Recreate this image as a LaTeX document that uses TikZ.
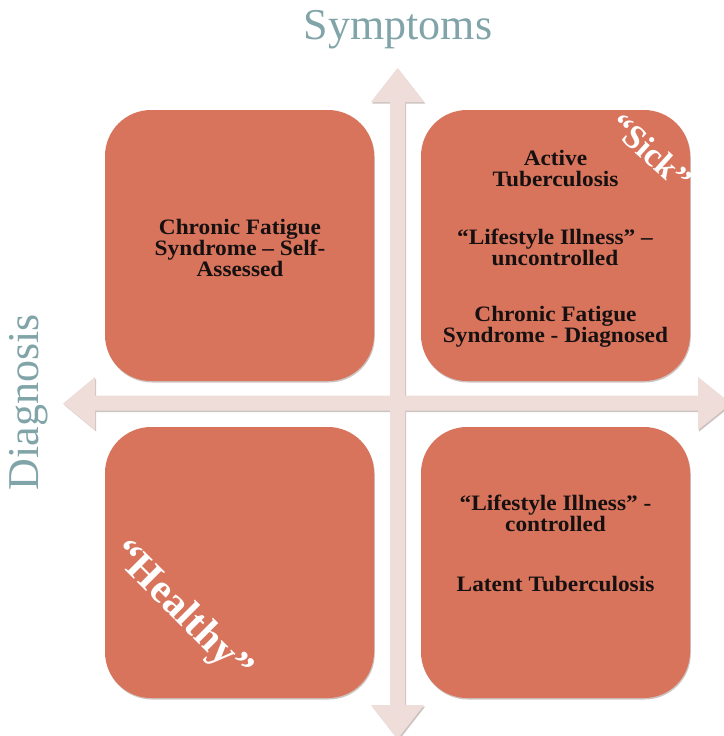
\documentclass[tikz,border=0pt]{standalone}
\usepackage{fontspec}
\setmainfont{Liberation Serif}
\newfontfamily\widebold[FakeStretch=1.06]{Liberation Serif Bold}
\definecolor{boxfill}{RGB}{216,116,92}
\definecolor{arrowfill}{RGB}{238,221,216}
\definecolor{shadowc}{RGB}{205,196,194}
\definecolor{titlec}{RGB}{128,164,168}
\definecolor{inkc}{RGB}{22,16,16}
\begin{document}
\begin{tikzpicture}[x=1pt,y=-1pt,
  quad/.style={fill=boxfill,rounded corners=46pt},
  quadshadow/.style={fill=shadowc,rounded corners=46pt},
  arrowbody/.style={fill=arrowfill},
  arrowshadow/.style={fill=shadowc},
  item/.style={text=inkc,font=\fontsize{22}{21}\widebold,align=center,inner sep=0pt},
  corner/.style={text=white,inner sep=0pt},
  axislabel/.style={text=titlec,font=\fontsize{44}{44}\selectfont,inner sep=0pt}]
\useasboundingbox (0,0) rectangle (723,736);
% axes (arrows)
\foreach \dx/\dy/\st in {1.2/1.5/arrowshadow,0/0/arrowbody}{
  \begin{scope}[shift={(\dx,\dy)}]
  \fill[\st] (390,102) -- (371,102) -- (397.5,68) -- (424,102) -- (405,102)
    -- (405,705) -- (424,705) -- (397.5,739) -- (371,705) -- (390,705) -- cycle;
  \fill[\st] (95,395.5) -- (95,377) -- (63,403.5) -- (95,430) -- (95,410.5)
    -- (698,410.5) -- (698,430) -- (731,403.5) -- (698,377) -- (698,395.5) -- cycle;
  \end{scope}}
% quadrants
\foreach \x/\y/\n in {105/110/tl,421/110/tr,105/427/bl,421/427/br}{
  \fill[quadshadow] (\x+0.8,\y+1.5) rectangle ++(269,271);
  \fill[quad] (\x,\y) rectangle ++(269,271);
  \coordinate (\n) at (\x+134.5,\y+135.5);
}
% labels
\node[axislabel] (symptoms) at (398,30) {Symptoms};
\node[axislabel,rotate=90] (diagnosis) at (29,402) {Diagnosis};
% texts
\node[item] (cfsself) at (240,247.5) {Chronic Fatigue\\Syndrome – Self-\\Assessed};
\node[item] (activetb) at (555.5,168.5) {Active\\Tuberculosis};
\node[item] (lsunc) at (555,247.5) {“Lifestyle Illness” –\\uncontrolled};
\node[item] (cfsdiag) at (555.5,327) {Chronic Fatigue\\Syndrome - Diagnosed};
\node[item] (lsctl) at (555.5,513.5) {“Lifestyle Illness” -\\controlled};
\node[item] (latent) at (555.5,583.5) {Latent Tuberculosis};
\node[corner,rotate=-42,font=\fontsize{34}{34}\selectfont\bfseries] (sick) at (651,152) {“Sick”};
\node[corner,rotate=-45,font=\fontsize{41}{41}\selectfont\bfseries] (healthy) at (181,612) {“Healthy”};
\end{tikzpicture}
\end{document}
